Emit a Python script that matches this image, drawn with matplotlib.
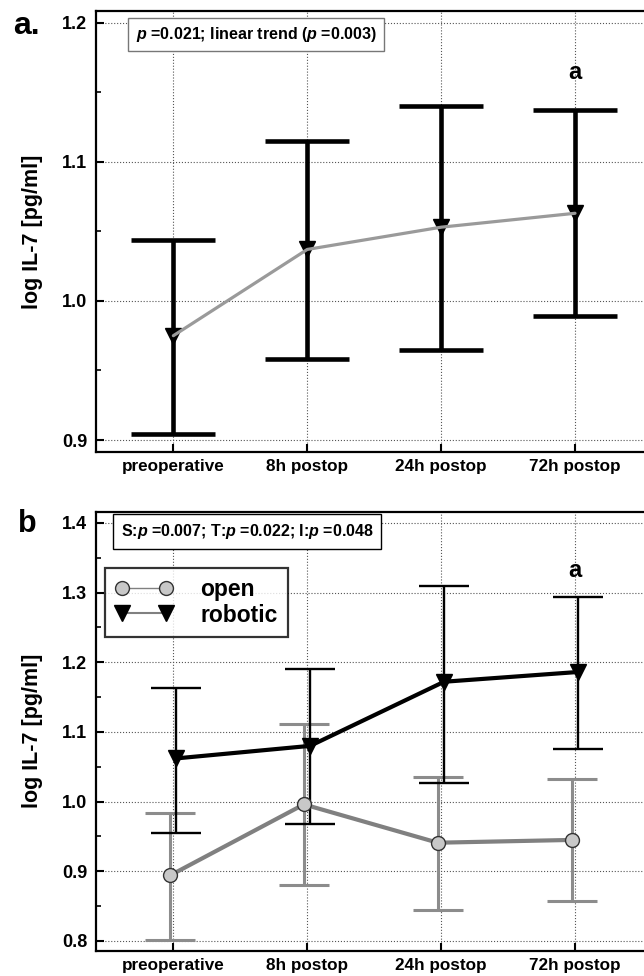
import numpy as np
import matplotlib
matplotlib.use("Agg")
import matplotlib.pyplot as plt
from matplotlib.lines import Line2D
from matplotlib.ticker import MultipleLocator

plt.rcParams['font.family'] = ['Liberation Sans', 'DejaVu Sans']
plt.rcParams['font.weight'] = 'bold'
plt.rcParams['mathtext.fontset'] = 'custom'
plt.rcParams['mathtext.it'] = 'Liberation Sans:italic:bold'
plt.rcParams['mathtext.rm'] = 'Liberation Sans:bold'

# data
timepoints = ["preoperative", "8h postop", "24h postop", "72h postop"]

# panel a: all patients
all_mean = [0.975, 1.037, 1.053, 1.063]
all_low = [0.904, 0.958, 0.965, 0.989]
all_high = [1.044, 1.115, 1.140, 1.137]

# panel b: by surgical approach
open_mean = [0.894, 0.996, 0.941, 0.945]
open_low = [0.802, 0.880, 0.844, 0.857]
open_high = [0.983, 1.111, 1.036, 1.032]

robot_mean = [1.062, 1.080, 1.172, 1.186]
robot_low = [0.955, 0.968, 1.027, 1.076]
robot_high = [1.163, 1.190, 1.310, 1.294]

text_a = "$p$ =0.021; linear trend ($p$ =0.003)"
text_b = "S:$p$ =0.007; T:$p$ =0.022; I:$p$ =0.048"

x = np.arange(len(timepoints))


def style_axis(ax, ylim, major):
    ax.set_xlim(-0.58, 3.6)
    ax.set_ylim(*ylim)
    ax.set_xticks(x)
    ax.set_xticklabels(timepoints, fontsize=12.3, fontweight='bold')
    ax.yaxis.set_major_locator(MultipleLocator(major))
    ax.yaxis.set_minor_locator(MultipleLocator(major / 2))
    ax.yaxis.set_major_formatter(matplotlib.ticker.FormatStrFormatter('%.1f'))
    for lab in ax.get_yticklabels():
        lab.set_fontsize(13)
        lab.set_fontweight('bold')
    ax.tick_params(axis='both', which='major', direction='in', length=6, width=1.5)
    ax.tick_params(axis='y', which='major', pad=6)
    ax.tick_params(axis='x', which='major', pad=5)
    ax.tick_params(axis='y', which='minor', direction='in', length=3.5, width=1.2)
    ax.grid(True, which='major', linestyle=':', color='#555555', linewidth=0.8)
    ax.set_axisbelow(True)
    for s in ax.spines.values():
        s.set_linewidth(1.6)
    ax.set_ylabel("log IL-7 [pg/ml]", fontsize=15.5, fontweight='bold')
    ax.yaxis.set_label_coords(-0.094, 0.5)


fig = plt.figure(figsize=(6.44, 9.76), dpi=100)

# ---- panel a ----
ax1 = fig.add_axes([0.1486, 0.5372, 0.869, 0.4515])
style_axis(ax1, (0.8916, 1.2084), 0.1)
m = np.array(all_mean)
yerr = [m - np.array(all_low), np.array(all_high) - m]
ax1.errorbar(x, m, yerr=yerr, fmt='none', ecolor='black', elinewidth=3.3,
             capsize=30, capthick=3.3, zorder=2)
ax1.plot(x, m, linestyle='none', marker='v', markersize=12, color='black', zorder=3)
ax1.plot(x, m, color='#9a9a9a', linewidth=2.3, zorder=4, solid_capstyle='round')
ax1.text(0.2865, 0.947, text_a, transform=ax1.transAxes, ha='center', va='center',
         fontsize=11.5, fontweight='bold',
         bbox=dict(boxstyle='square,pad=0.45', facecolor='white', edgecolor='#777777', linewidth=1))
ax1.text(x[3], 1.164, "a", ha='center', va='center', fontsize=17, fontweight='bold')

# ---- panel b ----
ax2 = fig.add_axes([0.1486, 0.0259, 0.869, 0.4498])
style_axis(ax2, (0.786, 1.416), 0.1)
xo = x - 0.025
xr = x + 0.022
om = np.array(open_mean)
rm = np.array(robot_mean)
ax2.errorbar(xo, om, yerr=[om - np.array(open_low), np.array(open_high) - om], fmt='none',
             ecolor='#8c8c8c', elinewidth=2.2, capsize=18, capthick=2.2, zorder=2)
ax2.errorbar(xr, rm, yerr=[rm - np.array(robot_low), np.array(robot_high) - rm], fmt='none',
             ecolor='black', elinewidth=1.7, capsize=18, capthick=1.7, zorder=3)
ax2.plot(xo, om, color='#808080', linewidth=3, zorder=4)
ax2.plot(xo, om, linestyle='none', marker='o', markersize=10, markerfacecolor='#c8c8c8',
         markeredgecolor='#333333', markeredgewidth=1, zorder=6)
ax2.plot(xr, rm, color='black', linewidth=3, zorder=5)
ax2.plot(xr, rm, linestyle='none', marker='v', markersize=11, color='black', zorder=6)
ax2.text(0.2704, 0.955, text_b, transform=ax2.transAxes, ha='center', va='center',
         fontsize=11.5, fontweight='bold',
         bbox=dict(boxstyle='square,pad=0.5', facecolor='white', edgecolor='black', linewidth=1))
ax2.text(x[3], 1.332, "a", ha='center', va='center', fontsize=17, fontweight='bold')

h_open = Line2D([], [], color='#808080', linewidth=1, marker='o', markersize=10,
                markerfacecolor='#c8c8c8', markeredgecolor='#333333')
h_robot = Line2D([], [], color='#808080', linewidth=1.5, marker='v', markersize=12,
                 markerfacecolor='black', markeredgecolor='black')
leg = ax2.legend([h_open, h_robot], ["open", "robotic"], loc='upper left',
                 bbox_to_anchor=(0.0166, 0.872), borderaxespad=0, numpoints=2,
                 prop={'size': 16.5, 'weight': 'bold'}, frameon=True, fancybox=False,
                 handlelength=2.5, handletextpad=1.2, labelspacing=0.1, borderpad=0.45)
leg.get_frame().set_edgecolor('black')
leg.get_frame().set_linewidth(1.6)

fig.text(13 / 644, 1 - 34.5 / 976, "a.", fontsize=23, fontweight='bold', va='baseline')
fig.text(18 / 644, 1 - 531.5 / 976, "b", fontsize=22, fontweight='bold', va='baseline')

fig.savefig("out.png", dpi=100)
